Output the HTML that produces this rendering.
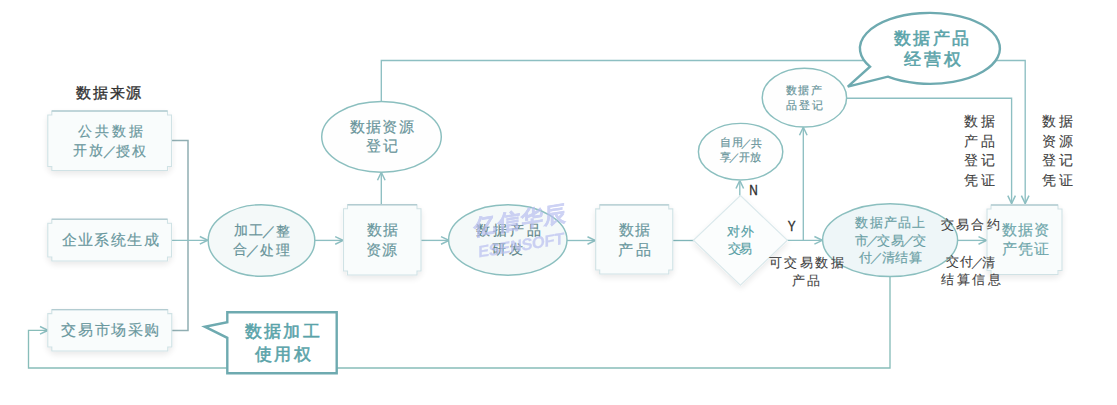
<!DOCTYPE html>
<html><head><meta charset="utf-8"><style>
html,body{margin:0;padding:0;background:#fff;}
body{width:1117px;height:405px;overflow:hidden;}
svg{display:block;}
text{font-family:"Liberation Serif",serif;text-anchor:middle;dominant-baseline:central;}
.bt{fill:#6a989e;stroke:#6a989e;stroke-width:0.18px;}
.et{fill:#68949a;stroke:#68949a;stroke-width:0.18px;}
.ct{fill:#5aa3a9;stroke:#5aa3a9;stroke-width:0.55px;}
.dkb{fill:#333;stroke:#333;stroke-width:0.35px;}
.dk{fill:#404040;stroke:#404040;stroke-width:0.1px;}
.lt{fill:#2e2e2e;font-family:"Liberation Sans",sans-serif;font-size:15.5px;stroke:#2e2e2e;stroke-width:0.4px;}
.wm{fill:#b9bff0;font-family:"Liberation Sans",sans-serif;font-weight:bold;}
</style></head><body>
<svg width="1117" height="405" viewBox="0 0 1117 405">
<defs><filter id="sh" x="-20%" y="-20%" width="140%" height="150%"><feGaussianBlur in="SourceAlpha" stdDeviation="3"/><feOffset dy="3"/><feComponentTransfer><feFuncA type="linear" slope="0.09"/></feComponentTransfer><feMerge><feMergeNode/><feMergeNode in="SourceGraphic"/></feMerge></filter><marker id="ar" viewBox="0 0 10 10" refX="10" refY="5" markerWidth="10" markerHeight="10" markerUnits="userSpaceOnUse" orient="auto"><path d="M2,1.2 L10,5 L2,8.8" fill="none" stroke="#8dbfc2" stroke-width="1.5"/></marker></defs>
<path d="M171,140.5 H188 V330.5 H171" fill="none" stroke="#90aeb2" stroke-width="1.5"/>
<path d="M171,240.3 H207.8" fill="none" stroke="#8dbfc2" stroke-width="1.35" marker-end="url(#ar)"/>
<path d="M315,240.4 H343.2" fill="none" stroke="#8dbfc2" stroke-width="1.35" marker-end="url(#ar)"/>
<path d="M381.3,204.5 V172.3" fill="none" stroke="#8dbfc2" stroke-width="1.35" marker-end="url(#ar)"/>
<path d="M381.3,101.4 V60.5 H1025.2 V203.6" fill="none" stroke="#8dbfc2" stroke-width="1.35" marker-end="url(#ar)"/>
<path d="M420,240.4 H449" fill="none" stroke="#8dbfc2" stroke-width="1.35" marker-end="url(#ar)"/>
<path d="M567,240.5 H595.5" fill="none" stroke="#8dbfc2" stroke-width="1.35" marker-end="url(#ar)"/>
<path d="M673,240.5 H695" fill="none" stroke="#7fb5b8" stroke-width="1.35"/>
<path d="M739.8,195.5 V180.5" fill="none" stroke="#8dbfc2" stroke-width="1.35" marker-end="url(#ar)"/>
<path d="M786,240.3 H822.4" fill="none" stroke="#8dbfc2" stroke-width="1.35" marker-end="url(#ar)"/>
<path d="M803.3,240.3 V127.3" fill="none" stroke="#8dbfc2" stroke-width="1.35" marker-end="url(#ar)"/>
<path d="M846,98.2 H1011.6 V203.6" fill="none" stroke="#8dbfc2" stroke-width="1.35" marker-end="url(#ar)"/>
<path d="M957.6,240.4 H986.5" fill="none" stroke="#8dbfc2" stroke-width="1.35" marker-end="url(#ar)"/>
<path d="M890,276.5 V368 H28.5 V330.3 H48" fill="none" stroke="#88bdb9" stroke-width="1.35" marker-end="url(#ar)"/>
<path d="M51.8,111 H167.5 V115 H171.5 V166.5 H167.5 V170.5 H51.8 V166.5 H47.8 V115 H51.8 Z" fill="#f9fcfc" stroke="#d0e2e5" stroke-width="1.1" filter="url(#sh)"/>
<path d="M51.8,111 H167.5" stroke="#b3ccd1" stroke-width="1.4"/>
<path d="M51.8,219.2 H167.5 V223.2 H171.5 V257 H167.5 V261 H51.8 V257 H47.8 V223.2 H51.8 Z" fill="#f9fcfc" stroke="#d0e2e5" stroke-width="1.1" filter="url(#sh)"/>
<path d="M51.8,219.2 H167.5" stroke="#b3ccd1" stroke-width="1.4"/>
<path d="M51.8,309.6 H167.8 V313.6 H171.8 V347 H167.8 V351 H51.8 V347 H47.8 V313.6 H51.8 Z" fill="#f9fcfc" stroke="#d0e2e5" stroke-width="1.1" filter="url(#sh)"/>
<path d="M51.8,309.6 H167.8" stroke="#b3ccd1" stroke-width="1.4"/>
<path d="M347.5,204.7 H417 V208.7 H421 V271 H417 V275 H347.5 V271 H343.5 V208.7 H347.5 Z" fill="#f9fcfc" stroke="#d0e2e5" stroke-width="1.1" filter="url(#sh)"/>
<path d="M347.5,204.7 H417" stroke="#b3ccd1" stroke-width="1.4"/>
<path d="M599.7,204.9 H668.8 V208.9 H672.8 V270 H668.8 V274 H599.7 V270 H595.7 V208.9 H599.7 Z" fill="#f9fcfc" stroke="#d0e2e5" stroke-width="1.1" filter="url(#sh)"/>
<path d="M599.7,204.9 H668.8" stroke="#b3ccd1" stroke-width="1.4"/>
<path d="M991,205 H1058 V209 H1062 V270.5 H1058 V274.5 H991 V270.5 H987 V209 H991 Z" fill="#f9fcfc" stroke="#d0e2e5" stroke-width="1.1" filter="url(#sh)"/>
<path d="M991,205 H1058" stroke="#b3ccd1" stroke-width="1.4"/>
<ellipse cx="261.5" cy="240.5" rx="53.3" ry="35.8" fill="#f4f9f9" stroke="#8bbfbf" stroke-width="1.45"/>
<ellipse cx="381.5" cy="136.8" rx="59.8" ry="35.4" fill="#fefefe" stroke="#8bbfbf" stroke-width="1.45"/>
<ellipse cx="507.8" cy="240" rx="59.2" ry="35.2" fill="#f4f9f9" stroke="#8bbfbf" stroke-width="1.45"/>
<ellipse cx="740.6" cy="151.7" rx="42.2" ry="28.3" fill="#fefefe" stroke="#8bbfbf" stroke-width="1.45"/>
<ellipse cx="804.4" cy="97.7" rx="42.2" ry="29.4" fill="#fefefe" stroke="#8bbfbf" stroke-width="1.45"/>
<ellipse cx="890.1" cy="240.1" rx="67.5" ry="36.4" fill="#eef6f8" stroke="#8bbfbf" stroke-width="1.45"/>
<path d="M740.4,195.5 L787.4,240.3 L740.4,285.1 L693.4,240.3 Z" fill="#fbfdfd" stroke="#dbe9ec" stroke-width="1.2" filter="url(#sh)"/>
<path d="M870,66.7 A70,35.5 0 1 1 887.8,76.7 L847.8,86.7 Z" fill="#fff" stroke="#6eaab0" stroke-width="2.4"/>
<path d="M227.3,312.2 H336.7 V373.3 H227.3 V337.8 L204.8,326.7 L227.3,322.2 Z" fill="#fff" stroke="#6eaab0" stroke-width="2.4"/>
<text x="109.75" y="93.15" class="dkb" style="font-size:14.50px;letter-spacing:1.68px">数据来源</text>
<text x="111.90" y="131.70" class="bt" style="font-size:14.00px;letter-spacing:3.07px">公共数据</text>
<text x="110.65" y="150.65" class="bt" style="font-size:14.00px;letter-spacing:2.04px">开放<tspan dx="-2.8">／</tspan><tspan dx="-2.8">授权</tspan></text>
<text x="110.85" y="240.20" class="bt" style="font-size:14.50px;letter-spacing:1.38px">企业系统生成</text>
<text x="111.10" y="329.95" class="bt" style="font-size:14.50px;letter-spacing:1.55px">交易市场采购</text>
<text x="262.45" y="230.65" class="et" style="font-size:13.50px;letter-spacing:1.78px">加工<tspan dx="-2.7">／</tspan><tspan dx="-2.7">整</tspan></text>
<text x="262.45" y="249.60" class="et" style="font-size:13.50px;letter-spacing:2.08px">合<tspan dx="-2.7">／</tspan><tspan dx="-2.7">处理</tspan></text>
<text x="382.35" y="127.05" class="et" style="font-size:15.00px;letter-spacing:1.29px">数据资源</text>
<text x="383.10" y="146.35" class="et" style="font-size:15.00px;letter-spacing:2.03px">登记</text>
<text x="382.90" y="229.90" class="bt" style="font-size:15.00px;letter-spacing:0.80px">数据</text>
<text x="381.90" y="249.50" class="bt" style="font-size:15.00px;letter-spacing:1.23px">资源</text>
<text x="510.25" y="230.85" class="et" style="font-size:14.00px;letter-spacing:3.22px;fill:#5f8589;stroke:#5f8589">数据产品</text>
<text x="508.85" y="249.65" class="et" style="font-size:14.00px;letter-spacing:3.23px;fill:#5f8589;stroke:#5f8589">研发</text>
<text x="635.20" y="229.90" class="bt" style="font-size:15.00px;letter-spacing:1.18px">数据</text>
<text x="635.65" y="249.50" class="bt" style="font-size:15.00px;letter-spacing:2.39px">产品</text>
<text x="741.45" y="231.10" class="bt" style="font-size:13.00px;letter-spacing:1.48px;fill:#579fa5;stroke:#579fa5">对外</text>
<text x="739.25" y="248.70" class="bt" style="font-size:13.00px;letter-spacing:-1.34px;fill:#579fa5;stroke:#579fa5">交易</text>
<text x="741.15" y="142.90" class="et" style="font-size:10.50px;letter-spacing:0.64px">自用<tspan dx="-2.1">／</tspan><tspan dx="-2.1">共</tspan></text>
<text x="740.65" y="157.45" class="et" style="font-size:10.50px;letter-spacing:0.34px">享<tspan dx="-2.1">／</tspan><tspan dx="-2.1">开放</tspan></text>
<text x="804.60" y="89.90" class="et" style="font-size:11.00px;letter-spacing:1.55px">数据产</text>
<text x="805.60" y="105.10" class="et" style="font-size:11.00px;letter-spacing:1.88px">品登记</text>
<text x="891.00" y="222.40" class="et" style="font-size:13.00px;letter-spacing:1.23px;fill:#6aa0a5;stroke:#6aa0a5">数据产品上</text>
<text x="891.10" y="240.20" class="et" style="font-size:13.00px;letter-spacing:0.64px;fill:#6aa0a5;stroke:#6aa0a5">市<tspan dx="-2.6">／</tspan><tspan dx="-2.6">交易</tspan><tspan dx="-2.6">／</tspan><tspan dx="-2.6">交</tspan></text>
<text x="891.15" y="257.25" class="et" style="font-size:13.00px;letter-spacing:0.85px;fill:#6aa0a5;stroke:#6aa0a5">付<tspan dx="-2.6">／</tspan><tspan dx="-2.6">清结算</tspan></text>
<text x="1026.15" y="229.90" class="bt" style="font-size:15.00px;letter-spacing:1.23px;fill:#6ea6ab;stroke:#6ea6ab">数据资</text>
<text x="1026.15" y="249.40" class="bt" style="font-size:15.00px;letter-spacing:1.14px;fill:#6ea6ab;stroke:#6ea6ab">产凭证</text>
<text x="932.90" y="38.20" class="ct" style="font-size:17.00px;letter-spacing:2.53px">数据产品</text>
<text x="933.80" y="59.60" class="ct" style="font-size:17.00px;letter-spacing:2.79px">经营权</text>
<text x="283.50" y="331.00" class="ct" style="font-size:17.00px;letter-spacing:2.40px">数据加工</text>
<text x="284.00" y="354.10" class="ct" style="font-size:17.00px;letter-spacing:2.42px">使用权</text>
<text x="807.40" y="262.10" class="dk" style="font-size:13.00px;letter-spacing:2.52px">可交易数据</text>
<text x="807.15" y="280.50" class="dk" style="font-size:13.00px;letter-spacing:1.90px">产品</text>
<text x="971.50" y="224.75" class="dk" style="font-size:13.00px;letter-spacing:2.18px">交易合约</text>
<text x="970.90" y="261.55" class="dk" style="font-size:13.00px;letter-spacing:0.94px">交付<tspan dx="-2.6">／</tspan><tspan dx="-2.6">清</tspan></text>
<text x="972.40" y="279.75" class="dk" style="font-size:13.00px;letter-spacing:2.51px">结算信息</text>
<text x="980.90" y="121.50" class="dk" style="font-size:14.00px;letter-spacing:3.10px">数据</text>
<text x="980.90" y="141.00" class="dk" style="font-size:14.00px;letter-spacing:3.10px">产品</text>
<text x="980.90" y="160.80" class="dk" style="font-size:14.00px;letter-spacing:3.10px">登记</text>
<text x="980.90" y="180.70" class="dk" style="font-size:14.00px;letter-spacing:3.10px">凭证</text>
<text x="1058.90" y="121.50" class="dk" style="font-size:14.00px;letter-spacing:3.10px">数据</text>
<text x="1058.90" y="141.00" class="dk" style="font-size:14.00px;letter-spacing:3.10px">资源</text>
<text x="1058.90" y="160.80" class="dk" style="font-size:14.00px;letter-spacing:3.10px">登记</text>
<text x="1058.90" y="180.70" class="dk" style="font-size:14.00px;letter-spacing:3.10px">凭证</text>
<text x="0" y="0" class="lt" transform="translate(753.6 189.7) scale(0.76 1)">N</text><text x="0" y="0" class="lt" transform="translate(791.6 225.6) scale(0.76 1)">Y</text>
<g transform="translate(520 230) skewY(-9) translate(-520 -230)" opacity="0.7"><text x="521" y="220" class="wm" style="font-size:22px;letter-spacing:1.5px;stroke:#b9bff0;stroke-width:0.5px">亿信华辰</text><text x="521" y="245.5" class="wm" style="font-size:16.5px;letter-spacing:-0.4px;stroke:#b9bff0;stroke-width:0.2px">ESENSOFT</text></g>
</svg>
</body></html>
